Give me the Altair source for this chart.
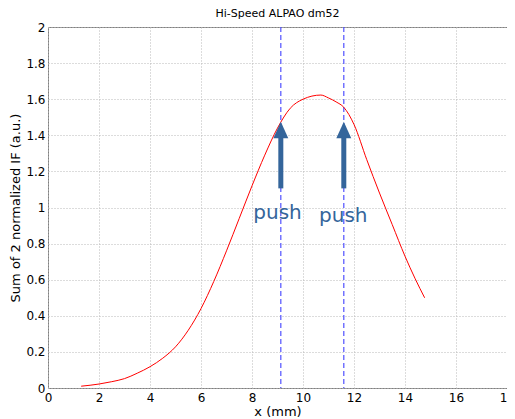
import altair as alt
import pandas as pd

# curve
curve_x = [1.3, 2.0, 2.5, 3.0, 3.5, 4.0, 4.5, 5.0, 5.5, 6.0, 6.5, 7.0, 7.5, 8.0, 8.5, 9.0, 9.5,
           10.0, 10.7, 11.0, 11.3, 11.6, 11.8, 12.0, 12.5, 13.0, 13.5, 14.0, 14.4, 14.77]
curve_y = [0.01, 0.022, 0.035, 0.052, 0.082, 0.118, 0.165, 0.228, 0.32, 0.44, 0.59, 0.76, 0.94, 1.12,
           1.29, 1.44, 1.55, 1.60, 1.623, 1.607, 1.585, 1.555, 1.515, 1.46, 1.265, 1.08, 0.905, 0.73,
           0.605, 0.5]

# actuator positions (dashed lines, arrows)
push_x = [9.13, 11.6]
shaft_bottom = [1.106, 1.106]
shaft_top = [1.40, 1.40]
head_y = [1.429, 1.429]
label_x = [9.0, 11.58]
label_y = [0.936, 0.918]
label_text = ["push", "push"]

x_ticks = [0, 2, 4, 6, 8, 10, 12, 14, 16, 18]
y_ticks = [0, 0.2, 0.4, 0.6, 0.8, 1.0, 1.2, 1.4, 1.6, 1.8, 2.0]

curve_df = pd.DataFrame({"x": curve_x, "y": curve_y})
push_df = pd.DataFrame({"x": push_x, "y0": shaft_bottom, "y1": shaft_top, "yh": head_y})
label_df = pd.DataFrame({"x": label_x, "y": label_y, "t": label_text})

FONT = "DejaVu Sans"
ARROW = "#34659b"

xs = alt.Scale(domain=[0, 18], nice=False)
ys = alt.Scale(domain=[0, 2], nice=False)

xaxis = alt.Axis(values=x_ticks, title="x (mm)", grid=True, labelFlush=False, labelOverlap=False,
                 format="~g", labelPadding=4, titlePadding=2)
yaxis = alt.Axis(values=y_ticks, title="Sum of 2 normalized IF (a.u.)", grid=True, labelOverlap=False,
                 format="~g", labelPadding=3, titlePadding=3)

curve = alt.Chart(curve_df).mark_line(color="red", strokeWidth=1, interpolate="monotone").encode(
    x=alt.X("x:Q", scale=xs, axis=xaxis),
    y=alt.Y("y:Q", scale=ys, axis=yaxis),
)

vlines = alt.Chart(push_df).mark_rule(color="#5050ff", strokeWidth=1.2, strokeDash=[5, 3]).encode(
    x=alt.X("x:Q", scale=xs, axis=xaxis),
)

shafts = alt.Chart(push_df).mark_rule(color=ARROW, strokeWidth=5).encode(
    x=alt.X("x:Q", scale=xs, axis=xaxis),
    y=alt.Y("y0:Q", scale=ys, axis=yaxis),
    y2="y1:Q",
)

heads = alt.Chart(push_df).mark_point(
    shape="M0,-1L0.9,1L-0.9,1Z", filled=True, color=ARROW, opacity=1, size=276, strokeWidth=0
).encode(
    x=alt.X("x:Q", scale=xs, axis=xaxis),
    y=alt.Y("yh:Q", scale=ys, axis=yaxis),
)

labels = alt.Chart(label_df).mark_text(
    font=FONT, fontSize=20, color=ARROW, align="center", baseline="alphabetic"
).encode(
    x=alt.X("x:Q", scale=xs, axis=xaxis),
    y=alt.Y("y:Q", scale=ys, axis=yaxis),
    text="t:N",
)

chart = alt.layer(vlines, curve, shafts, heads, labels).properties(
    width=459,
    height=361,
    title=alt.TitleParams("Hi-Speed ALPAO dm52", font=FONT, fontSize=11, fontWeight="normal",
                          color="black", offset=2),
    autosize=alt.AutoSizeParams(type="none"),
    padding={"left": 40, "top": 19, "right": 0, "bottom": 31},
).configure_view(
    stroke="#808080", strokeWidth=1
).configure_axis(
    labelFont=FONT, labelFontSize=12, labelColor="black", labelOverlap=False,
    titleFont=FONT, titleFontSize=13, titleFontWeight="normal", titleColor="black",
    domain=False, ticks=False,
    gridColor="#b8b8b8", gridDash=[1, 2], gridWidth=1, gridOpacity=1,
)

chart.save("out.html", embed_options={"renderer": "svg", "actions": False})
